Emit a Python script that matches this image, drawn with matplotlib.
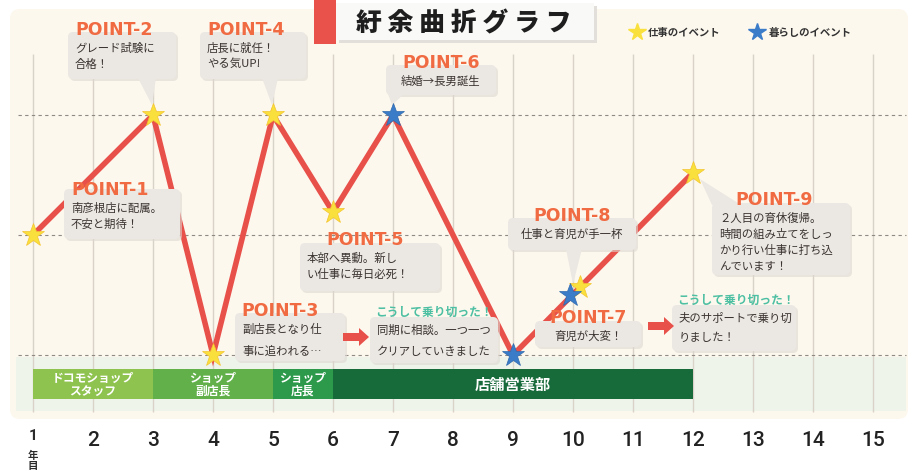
import matplotlib
matplotlib.use("Agg")
import matplotlib.pyplot as plt
from matplotlib.patches import FancyBboxPatch, Rectangle, Polygon, FancyArrow
from matplotlib.transforms import Affine2D

plt.rcParams['font.family'] = ['Noto Sans CJK JP', 'DejaVu Sans']

# ---- data ----
years = [1, 3, 4, 5, 6, 7, 9, 12]
levels = [0.0, 1.0, -1.0, 1.0, 0.19, 1.0, -1.0, 0.52]

work_x = [1, 3, 4, 5, 6, 10.12, 12]
work_y = [0.0, 1.0, -1.0, 1.0, 0.19, -0.43, 0.52]
life_x = [7, 9, 9.95]
life_y = [1.0, -1.0, -0.5]

stage_names = ["ドコモショップ\nスタッフ", "ショップ\n副店長", "ショップ\n店長", "店舗営業部"]
stage_start = [1, 3, 5, 6]
stage_end = [3, 5, 6, 12]
stage_colors = ["#8fc350", "#62b04a", "#2c9a4a", "#176a3a"]

year_ticks = list(range(1, 16))
dash_levels = [-1, 0, 1]

W, H = 917, 477
fig = plt.figure(figsize=(W / 100, H / 100), dpi=100)
fig.patch.set_facecolor("white")
ax = fig.add_axes([0, 0, 1, 1])
ax.set_xlim(0.45, 15.733)
ax.set_ylim(-2.008, 1.967)
ax.axis("off")

# pixel transform for layout elements
px = Affine2D().scale(1 / W, -1 / H).translate(0, 1) + fig.transFigure

# background panel
ax.add_patch(FancyBboxPatch((10, 10), 898, 410, boxstyle="round,pad=0,rounding_size=10",
                            transform=px, fc="#fdf8ee", ec="none", zorder=0))
ax.add_patch(Rectangle((0.72, -1.47), 14.83, 0.45, fc="#eef4ea", ec="none", zorder=0.5))

# grid
ax.vlines(year_ticks, -1.475, 1.51, color="#d8d2c8", lw=1, zorder=1)
for lv in dash_levels:
    ax.plot([0.75, 15.55], [lv, lv], color="#8f8a84", lw=0.8, dashes=(3, 3), zorder=1)

# career stages
for name, s, e, c in zip(stage_names, stage_start, stage_end, stage_colors):
    ax.add_patch(Rectangle((s, -1.367), e - s, 0.25, fc=c, ec="none", zorder=2))
    fs = 11 if "\n" not in name else 8.5
    ax.text((s + e) / 2, -1.242, name, ha="center", va="center", color="white",
            fontsize=fs, fontweight="bold", linespacing=0.95, zorder=3)

# main line
ax.plot(years, levels, color="#e8504a", lw=4, solid_capstyle="round",
        solid_joinstyle="miter", zorder=4)

TITLE_FONT = ["DejaVu Sans"]


def callout(x0, y0, w, h, title, lines, tx=None, ty=None, dy=17, tcolor="#f06a42",
            center=False, tail=None, tfs=12.5):
    ax.add_patch(FancyBboxPatch((x0 + 2, y0 + 2), w, h, boxstyle="round,pad=0,rounding_size=5",
                                transform=px, fc="#dcd7d1", ec="none", alpha=0.6, zorder=5))
    ax.add_patch(FancyBboxPatch((x0, y0), w, h, boxstyle="round,pad=0,rounding_size=5",
                                transform=px, fc="#ebe7e2", ec="none", zorder=5))
    if tail is not None:
        ax.add_patch(Polygon(tail, closed=True, transform=px, fc="#ebe7e2", ec="none", zorder=5))
    if tx is None:
        tx = x0 + 7
    if ty is None:
        ty = y0
    fam = TITLE_FONT if title.startswith("POINT") else ["Noto Sans CJK JP"]
    if center:
        cx = x0 + w / 2
        ax.text(cx, ty, title, transform=px, ha="center", va="center", color=tcolor,
                fontsize=tfs, fontweight="bold", family=fam, zorder=6)
        for i, ln in enumerate(lines):
            ax.text(cx, ty + 18 + i * dy, ln, transform=px, ha="center", va="center",
                    color="#3a3330", fontsize=8.2, zorder=6)
    else:
        ax.text(tx, ty, title, transform=px, ha="left", va="center", color=tcolor,
                fontsize=tfs, fontweight="bold", family=fam, zorder=6)
        for i, ln in enumerate(lines):
            ax.text(x0 + 7, ty + 18 + i * dy, ln, transform=px, ha="left", va="center",
                    color="#3a3330", fontsize=8.2, zorder=6)


callout(64, 190, 116, 50, "POINT-1", ["南彦根店に配属。", "不安と期待！"], ty=190, dy=16)
callout(68, 33, 108, 47, "POINT-2", ["グレード試験に", "合格！"], ty=30, dy=16,
        tail=[(138, 79), (156, 79), (152, 106)])
callout(200, 33, 106, 47, "POINT-4", ["店長に就任！", "やる気UP!"], ty=30, dy=16,
        tail=[(262, 79), (278, 79), (272, 106)])
callout(386, 66, 110, 30, "POINT-6", ["結婚→長男誕生"], ty=63, center=True,
        tail=[(388, 95), (404, 95), (392, 106)])
callout(300, 244, 140, 48, "POINT-5", ["本部へ異動。新し", "い仕事に毎日必死！"], tx=326, ty=240, dy=16)
callout(235, 314, 110, 48, "POINT-3", ["副店長となり仕", "事に追われる…"], tx=241, ty=311, dy=22)
callout(370, 318, 128, 46, "こうして乗り切った！", ["同期に相談。一つ一つ", "クリアしていきました"],
        tx=375, ty=312, dy=22, tcolor="#4dbfa2", tfs=8.5)
callout(508, 219, 128, 32, "POINT-8", ["仕事と育児が手一杯"], ty=216, center=True,
        tail=[(566, 250), (582, 250), (573, 285)])
callout(535, 322, 106, 26, "POINT-7", ["育児が大変！"], ty=318, center=True)
callout(672, 306, 124, 46, "こうして乗り切った！", ["夫のサポートで乗り切", "りました！"],
        tx=677, ty=300, dy=20, tcolor="#4dbfa2", tfs=8.5)
callout(712, 204, 138, 72, "POINT-9", ["２人目の育休復帰。", "時間の組み立てをしっ", "かり行い仕事に打ち込",
                                       "んでいます！"], tx=735, ty=200, dy=16,
        tail=[(712, 206), (738, 204), (700, 180)])

# arrows
for x0, y0 in [(343, 338), (648, 327)]:
    ax.add_patch(FancyArrow(x0, y0, 26, 0, width=8, head_width=18, head_length=10,
                            length_includes_head=True, transform=px, fc="#e8504a",
                            ec="none", zorder=6))

# stars
ax.plot(work_x, work_y, ls="none", marker="*", ms=17, color="#f9e03c", mec="#f4c430",
        mew=0.5, zorder=8)
ax.plot(life_x, life_y, ls="none", marker="*", ms=17, color="#3b7cc9", mec="#2f69ad",
        mew=0.5, zorder=8)

# year labels
for y in year_ticks:
    if y == 1:
        ax.text(y, -1.665, str(y), ha="center", va="center", fontsize=11, fontweight="bold",
                color="#2b2b2b", family=["Roboto", "DejaVu Sans"], zorder=6)
    else:
        ax.text(y, -1.70, str(y), ha="center", va="center", fontsize=15, fontweight="medium",
                color="#222222", family=["Roboto", "DejaVu Sans"], zorder=6)
ax.text(1, -1.875, "年\n目", ha="center", va="center", fontsize=7.5, fontweight="bold",
        color="#2b2b2b", linespacing=1.0)

# title
ax.add_patch(Rectangle((314, 0), 22, 45, transform=px, fc="#e9524a", ec="none", zorder=6))
ax.add_patch(Rectangle((339, 7), 258, 37, transform=px, fc="#e2ded9", ec="none", zorder=6))
ax.add_patch(Rectangle((336, 4), 258, 37, transform=px, fc="#f9f9f8", ec="none", zorder=6))
ax.text(464, 23, "紆 余 曲 折 グ ラ フ", transform=px, ha="center", va="center", fontsize=18.5,
        fontweight="black", color="#1e1e1e", zorder=7)

# legend
ax.plot([637], [33], transform=px, marker="*", ms=13, color="#f9e03c", ls="none", zorder=7)
ax.text(648, 33, "仕事のイベント", transform=px, ha="left", va="center", fontsize=7.5,
        fontweight="bold", color="#333333", zorder=7)
ax.plot([757], [33], transform=px, marker="*", ms=13, color="#3b7cc9", ls="none", zorder=7)
ax.text(769, 33, "暮らしのイベント", transform=px, ha="left", va="center", fontsize=7.5,
        fontweight="bold", color="#333333", zorder=7)

fig.savefig("out.png", dpi=100)
